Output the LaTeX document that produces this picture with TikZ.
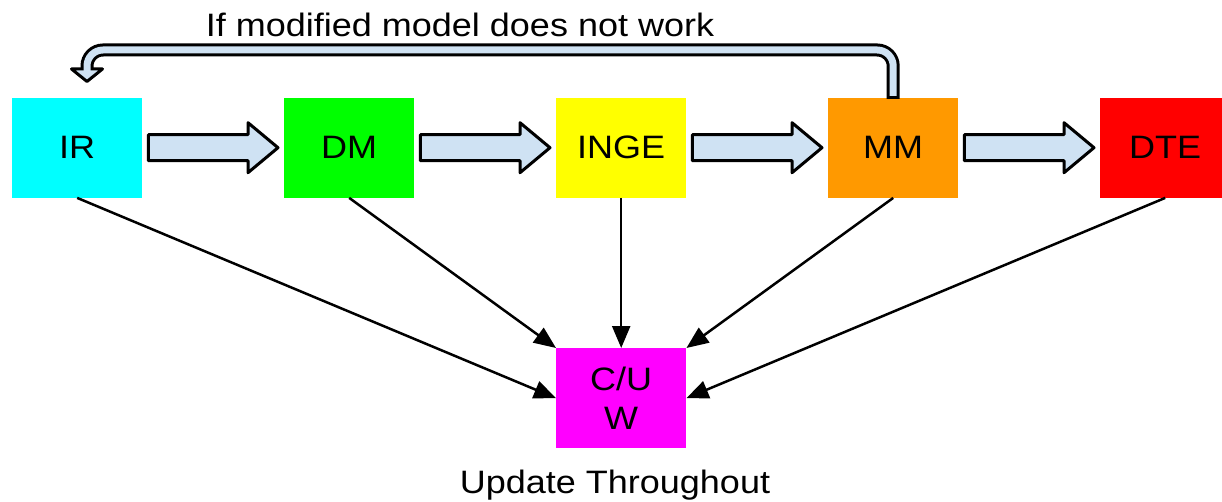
\documentclass[tikz,border=0pt]{standalone}
\usepackage{fontspec}
\setmainfont{Liberation Sans}
\usetikzlibrary{arrows.meta,calc}
\definecolor{arrowblue}{HTML}{CFE2F3}
\definecolor{irc}{HTML}{00FFFF}
\definecolor{dmc}{HTML}{00FF00}
\definecolor{ingec}{HTML}{FFFF00}
\definecolor{mmc}{HTML}{FF9900}
\definecolor{dtec}{HTML}{FF0000}
\definecolor{cuwc}{HTML}{FF00FF}
\newcommand\sqz[1]{\scalebox{1}[0.9]{#1}}
\newcommand\blockarrow[2]{%
  \draw[blk] let \p1=(#1.east), \p2=(#2.west) in
    (\x1+6pt,\y1+13pt) -- (\x2-36pt,\y1+13pt) -- (\x2-36pt,\y1+25pt) -- (\x2-6pt,\y1)
    -- (\x2-36pt,\y1-25pt) -- (\x2-36pt,\y1-13pt) -- (\x1+6pt,\y1-13pt) -- cycle;}
\begin{document}
\begin{tikzpicture}[x=1pt,y=-1pt,
  box/.style={minimum width=130pt, minimum height=100pt, inner sep=0pt,
    font=\fontsize{36}{39}\selectfont, anchor=north west},
  lbl/.style={font=\fontsize{36}{39}\selectfont, anchor=base, inner sep=0pt},
  blk/.style={draw=black, line width=3pt, fill=arrowblue, line join=round},
  conn/.style={line width=2.5pt, -{Triangle[length=22pt,width=18pt]}}]
\clip (0,0) rectangle (1222,502);
\fill[white] (0,0) rectangle (1222,502);
% boxes
\node[box, fill=irc] (ir) at (12,97.5) {\sqz{IR}};
\node[box, fill=dmc] (dm) at (284,97.5) {\sqz{DM}};
\node[box, fill=ingec] (inge) at (556,97.5) {\sqz{INGE}};
\node[box, fill=mmc] (mm) at (828,97.5) {\sqz{MM}};
\node[box, fill=dtec] (dte) at (1100,97.5) {\sqz{DTE}};
\node[box, fill=cuwc, align=center] (cuw) at (556,348) {\sqz{C/U}\\\sqz{W}};
% block arrows
\blockarrow{ir}{dm}
\blockarrow{dm}{inge}
\blockarrow{inge}{mm}
\blockarrow{mm}{dte}
% feedback arrow
\coordinate (fbc) at (87,50);
\coordinate (fbh) at (87,69);
\draw[line width=13pt, rounded corners=16pt] ([yshift=-1.5pt]mm.north) -- (mm.north |- fbc) -- (fbc) -- (fbh);
\draw[blk] (fbh) ++(-15.5,0) -- ++(15.5,12.5) -- ++(15.5,-12.5) -- cycle;
\draw[line width=7pt, arrowblue, rounded corners=16pt] ([yshift=1.5pt]mm.north) -- (mm.north |- fbc) -- (fbc) -- ([yshift=-3pt]fbh);
% connectors
\draw[conn] (ir.south) -- (cuw.west);
\draw[conn] (dm.south) -- (cuw.north west);
\draw[conn] (inge.south) -- (cuw.north);
\draw[conn] (mm.south) -- (cuw.north east);
\draw[conn] (dte.south) -- (cuw.east);
% labels
\node[lbl] (fblabel) at (460,37) {\sqz{If modified model does not work}};
\node[lbl] (update) at (615,493) {\sqz{Update Throughout}};
\end{tikzpicture}
\end{document}
